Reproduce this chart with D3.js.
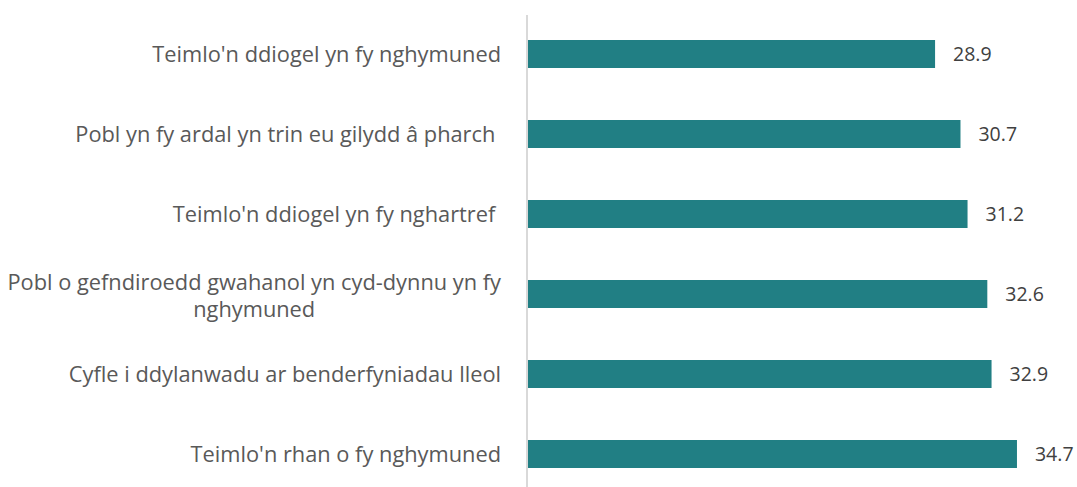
<!DOCTYPE html>
<html><head><meta charset="utf-8">
<script src="https://cdn.jsdelivr.net/npm/d3@7"></script>
<style>body{margin:0;background:#fff}svg{display:block}text{white-space:pre}</style>
</head><body>
<svg id="c" width="1077" height="487"></svg>
<script>
const categories = [
  "Teimlo'n ddiogel yn fy nghymuned",
  "Pobl yn fy ardal yn trin eu gilydd â pharch ",
  "Teimlo'n ddiogel yn fy nghartref ",
  "Pobl o gefndiroedd gwahanol yn cyd-dynnu yn fy nghymuned",
  "Cyfle i ddylanwadu ar benderfyniadau lleol",
  "Teimlo'n rhan o fy nghymuned"
];
const values = [28.9, 30.7, 31.2, 32.6, 32.9, 34.7];

const svg = d3.select("#c");
const x0 = 527;
const x = d3.scaleLinear().domain([0, 10]).range([x0, x0 + 141.2]);
const y = d3.scaleBand().domain(categories).range([14, 494]).paddingInner(0.65).paddingOuter(0.325);
const font = "'Open Sans', sans-serif";
const fs = 21.8;

svg.append("line").attr("x1", x0).attr("x2", x0).attr("y1", 15).attr("y2", 487)
  .attr("stroke", "#d9d9d9").attr("stroke-width", 2);

svg.selectAll("rect.bar").data(values).join("rect")
  .attr("x", x(0) + 1).attr("y", (d, i) => y(categories[i]))
  .attr("width", d => x(d) - x(0) - 1).attr("height", y.bandwidth())
  .attr("fill", "#217f84");

svg.selectAll("text.val").data(values).join("text")
  .attr("x", d => x(d) + 18).attr("y", (d, i) => y(categories[i]) + y.bandwidth() / 2)
  .attr("dy", "0.36em").attr("font-family", font).attr("font-size", 19.5)
  .attr("fill", "#404040").text(d => d.toFixed(1));

const right = 501, maxW = 500, lh = 27;
categories.forEach((c, i) => {
  const cy = y(c) + y.bandwidth() / 2;
  const g = svg.append("g");
  const words = c.split(" ");
  const lines = [];
  let cur = "";
  const t = g.append("text").attr("font-family", font).attr("font-size", fs);
  words.forEach((w, wi) => {
    const test = wi === 0 ? w : cur + " " + w;
    t.text(test.trim());
    if (t.node().getComputedTextLength() > maxW && cur) { lines.push(cur); cur = w; }
    else cur = test;
  });
  lines.push(cur);
  t.remove();
  const widths = lines.map(l => {
    const tt = g.append("text").attr("font-family", font).attr("font-size", fs).text(l);
    const w = tt.node().getComputedTextLength(); tt.remove(); return w;
  });
  const mw = d3.max(widths);
  const cx = right - mw / 2;
  const off = lines.length > 1 ? 2 : 0;
  lines.forEach((l, k) => {
    g.append("text").attr("x", cx).attr("y", cy + off + (k - (lines.length - 1) / 2) * lh)
      .attr("dy", "0.35em").attr("text-anchor", "middle")
      .attr("font-family", font).attr("font-size", fs).attr("fill", "#595959").text(l);
  });
});
</script>
</body></html>
